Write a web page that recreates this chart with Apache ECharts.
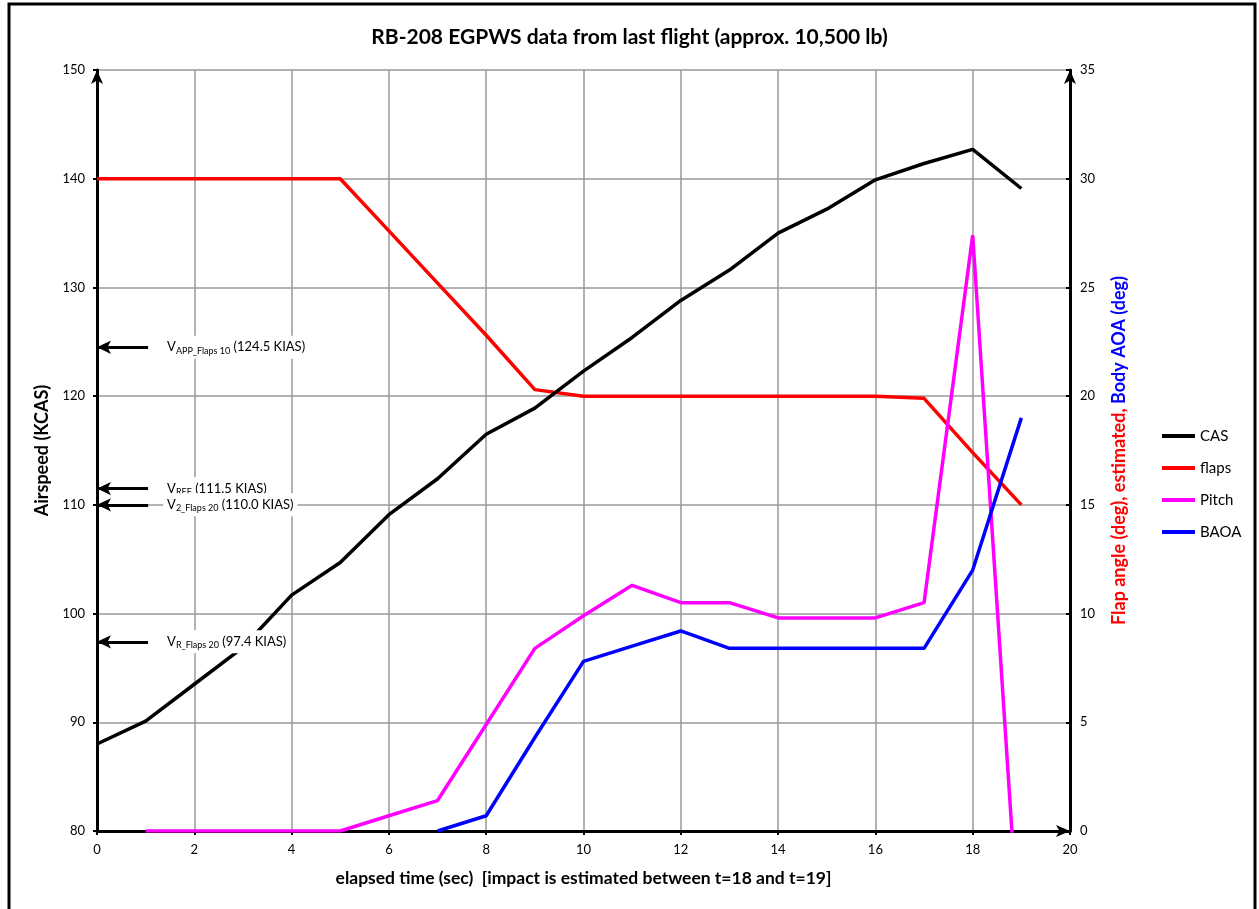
<!DOCTYPE html>
<html>
<head>
<meta charset="utf-8">
<script src="https://cdn.jsdelivr.net/npm/echarts@6/dist/echarts.min.js"></script>
<style>
  html, body { margin: 0; padding: 0; background: #fff; }
  #chart { width: 1259px; height: 909px; }
</style>
</head>
<body>
<div id="chart"></div>
<script>
// elapsed time (sec)
const times = [0, 1, 2, 3, 4, 5, 6, 7, 8, 9, 10, 11, 12, 13, 14, 15, 16, 17, 18, 19]
// airspeed, left axis (KCAS)
const cas = [88.0, 90.1, 93.5, 96.9, 101.7, 104.7, 109.1, 112.4, 116.5, 118.9, 122.3, 125.4, 128.8, 131.6, 135.0, 137.2, 139.9, 141.4, 142.7, 139.1]
// right axis (deg)
const flaps = [30, 30, 30, 30, 30, 30, 27.6, 25.2, 22.8, 20.3, 20.0, 20.0, 20.0, 20.0, 20.0, 20.0, 20.0, 19.9, 17.4, 15.0]
const pitch = [null, 0, 0, 0, 0, 0, 0.7, 1.4, 4.9, 8.4, 9.9, 11.3, 10.5, 10.5, 9.8, 9.8, 9.8, 10.5, 27.4, -6.6]
const baoa = [null, null, null, null, null, null, null, 0, 0.7, 4.3, 7.8, 8.5, 9.2, 8.4, 8.4, 8.4, 8.4, 8.4, 12.0, 19.0]

// reference speeds marked on the airspeed axis
const refNames = ['APP_Flaps 10', 'REF', '2_Flaps 20', 'R_Flaps 20']
const refSpeeds = [124.5, 111.5, 110.0, 97.4]

const FONT = 'Lato'

const pairs = (arr) => times.map((t, i) => [t, arr[i]])

const chart = echarts.init(document.getElementById('chart'))

const option = {
    backgroundColor: '#fff',
    textStyle: { fontFamily: FONT },
    title: {
        text: 'RB-208 EGPWS data from last flight (approx. 10,500 lb)',
        left: 'center',
        top: 22,
        textStyle: { fontFamily: FONT, fontSize: 21, fontWeight: 'bold', color: '#000' }
    },
    graphic: [{
        type: 'rect',
        shape: { x: 9, y: 4, width: 1246, height: 930 },
        style: { fill: 'none', stroke: '#000', lineWidth: 3 },
        silent: true
    }],
    legend: {
        orient: 'vertical',
        left: 1157,
        top: 422,
        icon: 'rect',
        itemWidth: 33,
        itemHeight: 4,
        itemGap: 14,
        textStyle: { fontFamily: FONT, fontSize: 15, color: '#000', lineHeight: 18 },
        data: ['CAS', 'flaps', 'Pitch', 'BAOA']
    },
    grid: { left: 97, right: 189, top: 70, bottom: 78 },
    xAxis: {
        type: 'value',
        min: 0,
        max: 20,
        interval: 2,
        name: 'elapsed time (sec)  [impact is estimated between t=18 and t=19]',
        nameLocation: 'middle',
        nameGap: 38,
        nameTextStyle: { fontFamily: FONT, fontSize: 17.5, fontWeight: 'bold', color: '#000' },
        axisLine: { lineStyle: { color: '#000', width: 3 }, symbol: ['none', 'arrow'], symbolSize: [9, 14] },
        axisTick: { show: true, inside: false, length: 4, lineStyle: { color: '#000', width: 2 } },
        axisLabel: { fontFamily: FONT, fontSize: 13, color: '#000', margin: 12 },
        splitLine: { show: true, lineStyle: { color: '#999', width: 1.5 } }
    },
    yAxis: [{
        type: 'value',
        min: 80,
        max: 150,
        interval: 10,
        name: 'Airspeed (KCAS)',
        nameLocation: 'middle',
        nameGap: 46,
        nameTextStyle: { fontFamily: FONT, fontSize: 18, fontWeight: 'bold', color: '#000' },
        axisLine: { show: true, lineStyle: { color: '#000', width: 3 }, symbol: ['none', 'arrow'], symbolSize: [9, 14] },
        axisTick: { show: true, length: 4, lineStyle: { color: '#000', width: 2 } },
        axisLabel: { fontFamily: FONT, fontSize: 13, color: '#000', margin: 12 },
        splitLine: { show: true, lineStyle: { color: '#999', width: 1.5 } }
    }, {
        type: 'value',
        min: 0,
        max: 35,
        interval: 5,
        position: 'right',
        name: '{r|Flap angle (deg), estimated, }{b|Body AOA (deg)}',
        nameLocation: 'middle',
        nameGap: 40,
        nameRotate: 90,
        nameTextStyle: {
            fontFamily: FONT, fontSize: 18, fontWeight: 'bold',
            rich: {
                r: { fontFamily: FONT, fontSize: 18, fontWeight: 'bold', color: '#ff0000' },
                b: { fontFamily: FONT, fontSize: 18, fontWeight: 'bold', color: '#0000ff' }
            }
        },
        axisLine: { show: true, lineStyle: { color: '#000', width: 3 }, symbol: ['none', 'arrow'], symbolSize: [9, 14] },
        axisTick: { show: true, inside: true, length: 4, lineStyle: { color: '#000', width: 2 } },
        axisLabel: { fontFamily: FONT, fontSize: 13, color: '#000', margin: 10 },
        splitLine: { show: false }
    }],
    series: [{
        name: 'CAS',
        type: 'line',
        yAxisIndex: 0,
        symbol: 'none',
        color: '#000',
        lineStyle: { width: 3.5, color: '#000' },
        data: pairs(cas),
        z: 5,
        markLine: {
            silent: true,
            symbol: ['arrow', 'none'],
            symbolSize: [10, 14],
            lineStyle: { color: '#000', width: 3, type: 'solid' },
            label: {
                show: true,
                position: 'end',
                distance: 15,
                backgroundColor: '#fff',
                padding: [3, 4],
                rich: {
                    v: { fontFamily: FONT, fontSize: 13, color: '#000', lineHeight: 17 },
                    s: { fontFamily: FONT, fontSize: 9, color: '#000', lineHeight: 17, padding: [7, 0, 0, 0] }
                }
            },
            emphasis: { disabled: true },
            z: 10,
            data: refSpeeds.map((v, i) => [
                { coord: [0, v] },
                {
                    coord: [1.05, v],
                    label: { formatter: '{v|V}{s|' + refNames[i] + '}{v| (' + v.toFixed(1) + ' KIAS)}' }
                }
            ])
        }
    }, {
        name: 'flaps',
        type: 'line',
        yAxisIndex: 1,
        symbol: 'none',
        color: '#ff0000',
        lineStyle: { width: 3.5, color: '#ff0000' },
        data: pairs(flaps)
    }, {
        name: 'Pitch',
        type: 'line',
        yAxisIndex: 1,
        symbol: 'none',
        color: '#ff00ff',
        lineStyle: { width: 3.5, color: '#ff00ff' },
        data: pairs(pitch)
    }, {
        name: 'BAOA',
        type: 'line',
        yAxisIndex: 1,
        symbol: 'none',
        color: '#0000ff',
        lineStyle: { width: 3.5, color: '#0000ff' },
        data: pairs(baoa)
    }]
}

chart.setOption(option)
</script>
</body>
</html>
